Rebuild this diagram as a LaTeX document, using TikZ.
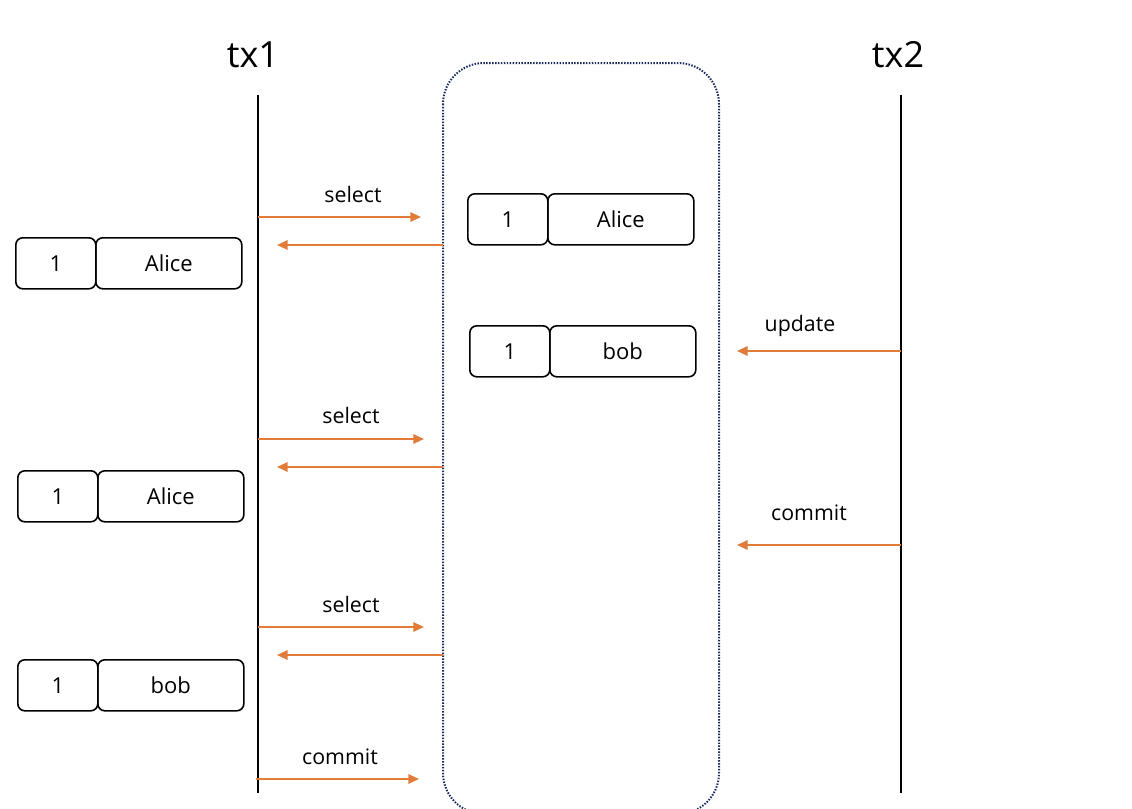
\documentclass[tikz,border=0pt]{standalone}
\usepackage{fontspec}
\setmainfont{Open Sans}
\usetikzlibrary{arrows.meta}
\definecolor{arr}{HTML}{E07B39}
\definecolor{navy}{HTML}{1A2A5E}
\tikzset{
  cell/.style={draw=black, line width=1.6pt*0.75, rounded corners=7pt*0.75, minimum height=51pt*0.75, inner sep=0pt, font=\fontsize{16.5}{19}\selectfont},
  idcell/.style={cell, minimum width=80pt*0.75},
  namecell/.style={cell, minimum width=146pt*0.75},
  life/.style={draw=black, line width=2pt*0.75},
  msg/.style={draw=arr, line width=2pt*0.75, -{Triangle[length=8pt, width=7pt]}},
  lbl/.style={font=\fontsize{16}{19}\selectfont, inner sep=0pt},
  title/.style={font=\fontsize{27}{31}\selectfont, inner sep=0pt},
  pocket/.style={draw=navy, line width=1.5pt, dash pattern=on 1.1pt off 1.1pt, rounded corners=41pt*0.75},
}
\begin{document}
\begin{tikzpicture}[x=0.75pt, y=-0.75pt]
\useasboundingbox (0,0) rectangle (1132,808);
\begin{scope}
\clip (0,0) rectangle (1132,808);
\draw[pocket] (443,63) rectangle (719,814);
\end{scope}
% titles
\node[title] (tx1) at (253,55) {tx1};
\node[title] (tx2) at (898,55) {tx2};
% lifelines
\coordinate (l1t) at (258,95); \coordinate (l1b) at (258,793);
\coordinate (l2t) at (901,95); \coordinate (l2b) at (901,793);
\draw[life] (l1t) -- (l1b);
\draw[life] (l2t) -- (l2b);
% middle boxes
\node[idcell, anchor=north west] (m1i) at (467,193) {1};
\node[namecell, anchor=north west] (m1n) at (547,193) {Alice};
\node[idcell, anchor=north west] (m2i) at (469,325) {1};
\node[namecell, anchor=north west] (m2n) at (549,325) {bob};
% left boxes
\node[idcell, anchor=north west] (a1i) at (15,237) {1};
\node[namecell, anchor=north west] (a1n) at (95,237) {Alice};
\node[idcell, anchor=north west] (a2i) at (17,470) {1};
\node[namecell, anchor=north west] (a2n) at (97,470) {Alice};
\node[idcell, anchor=north west] (a3i) at (17,659) {1};
\node[namecell, anchor=north west] (a3n) at (97,659) {bob};
% select 1
\coordinate (s1a) at (258,217); \coordinate (s1b) at (421,217);
\coordinate (r1a) at (443,245); \coordinate (r1b) at (277,245);
\draw[msg] (s1a) -- (s1b);
\draw[msg] (r1a) -- (r1b);
\node[lbl] (ls1) at (353,194) {select};
% select 2
\coordinate (s2a) at (258,439); \coordinate (s2b) at (424,439);
\coordinate (r2a) at (443,467); \coordinate (r2b) at (277,467);
\draw[msg] (s2a) -- (s2b);
\draw[msg] (r2a) -- (r2b);
\node[lbl] (ls2) at (351,415) {select};
% select 3
\coordinate (s3a) at (258,627); \coordinate (s3b) at (424,627);
\coordinate (r3a) at (443,655); \coordinate (r3b) at (277,655);
\draw[msg] (s3a) -- (s3b);
\draw[msg] (r3a) -- (r3b);
\node[lbl] (ls3) at (351,604) {select};
% commit tx1
\coordinate (c1a) at (256,779); \coordinate (c1b) at (419,779);
\draw[msg] (c1a) -- (c1b);
\node[lbl] (lc1) at (340,757) {commit};
% update tx2
\coordinate (u1a) at (901,351); \coordinate (u1b) at (737,351);
\draw[msg] (u1a) -- (u1b);
\node[lbl] (lu1) at (800,326) {update};
% commit tx2
\coordinate (c2a) at (901,545); \coordinate (c2b) at (737,545);
\draw[msg] (c2a) -- (c2b);
\node[lbl] (lc2) at (809,513) {commit};
\end{tikzpicture}
\end{document}
